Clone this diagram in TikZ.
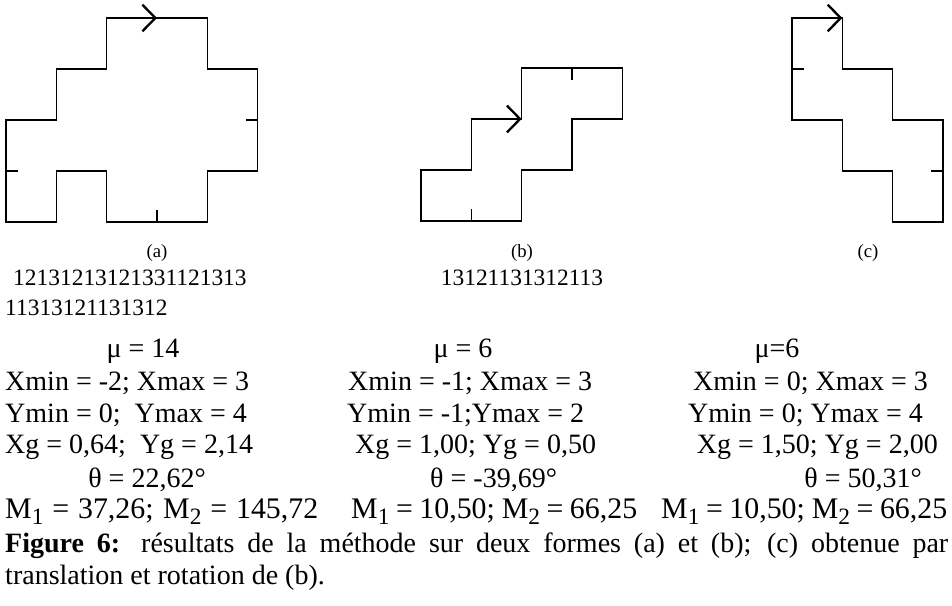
\documentclass[tikz,border=0pt]{standalone}
\usepackage{fontspec}
\setmainfont{Liberation Serif}
\usepackage{tikz}
\usetikzlibrary{arrows.meta}
\newcommand\tabsize{\fontsize{23.9}{28}\selectfont}
\newcommand\momsize{\fontsize{25.5}{30}\selectfont}
\newcommand\codesize{\fontsize{20}{24}\selectfont}
\newcommand\labsize{\fontsize{16}{19}\selectfont}
\newcommand\Msub[1]{M\raisebox{-0.2em}{\fontsize{20}{20}\selectfont #1}}

\begin{document}
\begin{tikzpicture}[
  x=1cm,y=1cm,
  contour/.style={line width=1.2pt,line join=miter},
  notch/.style={line width=1.2pt},
  heading/.style={line width=1.2pt,
    -{Straight Barb[length=0.39cm,width=0.8cm,line width=2pt]}},
  unitgrid/.style={x=1.51cm,y=1.53cm},
  every node/.style={inner sep=0pt},
  lrow/.style={anchor=base west,font=\tabsize},
  crow/.style={anchor=base,font=\tabsize},
  rrow/.style={anchor=base east,font=\tabsize},
  moment/.style={anchor=base west,font=\momsize},
  code/.style={font=\codesize},
  tag/.style={anchor=base,font=\labsize}
]
  \useasboundingbox (0,0) rectangle (28.56,18.15);

  % shape (a)
  \begin{scope}[shift={(0.18,11.49)},unitgrid]
    \draw[contour] (2,4) -- (4,4) -- (4,3) -- (5,3) -- (5,1) -- (4,1)
      -- (4,0) -- (2,0) -- (2,1) -- (1,1) -- (1,0) -- (0,0) -- (0,2)
      -- (1,2) -- (1,3) -- (2,3) -- cycle;
    \draw[notch] (5,2) -- ++(-0.23,0);
    \draw[notch] (3,0) -- ++(0,0.23);
    \draw[notch] (0,1) -- ++(0.23,0);
    \draw[heading] (2,4) -- (3,4);
  \end{scope}

  % shape (b)
  \begin{scope}[shift={(12.63,11.52)},unitgrid]
    \draw[contour] (1,2) -- (2,2) -- (2,3) -- (4,3) -- (4,2) -- (3,2)
      -- (3,1) -- (2,1) -- (2,0) -- (0,0) -- (0,1) -- (1,1) -- cycle;
    \draw[notch] (3,3) -- ++(0,-0.23);
    \draw[notch] (1,0) -- ++(0,0.23);
    \draw[heading] (1,2) -- (2,2);
  \end{scope}

  % shape (c)
  \begin{scope}[shift={(23.76,11.49)},unitgrid]
    \draw[contour] (0,4) -- (1,4) -- (1,3) -- (2,3) -- (2,2) -- (3,2)
      -- (3,0) -- (2,0) -- (2,1) -- (1,1) -- (1,2) -- (0,2) -- cycle;
    \draw[notch] (3,1) -- ++(-0.23,0);
    \draw[notch] (0,3) -- ++(0.23,0);
    \draw[heading] (0,4) -- (1,4);
  \end{scope}

  \node[tag] (taga) at (4.71,10.41) {(a)};
  \node[tag] (tagb) at (15.66,10.41) {(b)};
  \node[tag] (tagc) at (26.04,10.41) {(c)};

  \node[code,anchor=base west] (codea1) at (0.39,9.57) {12131213121331121313};
  \node[code,anchor=base west] (codea2) at (0.15,8.70) {11313121131312};
  \node[code,anchor=base] (codeb) at (15.66,9.57) {13121131312113};

  % column (a)
  \node[crow] (mua) at (4.29,7.43) {μ = 14};
  \node[lrow] (xa) at (0.15,6.45) {Xmin = -2; Xmax = 3};
  \node[lrow] (ya) at (0.15,5.49) {Ymin = 0;\ \ Ymax = 4};
  \node[lrow] (ga) at (0.15,4.56) {Xg = 0,64;\ \ Yg = 2,14};
  \node[crow] (ta) at (4.41,3.54) {θ = 22,62°};
  \node[moment] (ma) at (0.15,2.60)
    {\makebox[9.39cm][s]{\Msub{1} = 37,26; \Msub{2} = 145,72}};

  % column (b)
  \node[crow] (mub) at (13.89,7.43) {μ = 6};
  \node[lrow] (xb) at (10.44,6.45) {Xmin = -1; Xmax = 3};
  \node[lrow] (yb) at (10.41,5.49) {Ymin = -1;Ymax = 2};
  \node[lrow] (gb) at (10.65,4.56) {Xg = 1,00; Yg = 0,50};
  \node[lrow] (tb) at (12.90,3.54) {θ = -39,69°};
  \node[moment] (mb) at (10.53,2.60)
    {\makebox[8.58cm][s]{\Msub{1} = 10,50; \Msub{2} = 66,25}};

  % column (c)
  \node[crow] (muc) at (23.31,7.43) {μ=6};
  \node[rrow] (xc) at (27.84,6.45) {Xmin = 0; Xmax = 3};
  \node[rrow] (yc) at (27.69,5.49) {Ymin = 0; Ymax = 4};
  \node[rrow] (gc) at (28.14,4.56) {Xg = 1,50; Yg = 2,00};
  \node[rrow] (tc) at (27.66,3.54) {θ = 50,31°};
  \node[moment] (mc) at (19.83,2.60)
    {\makebox[8.58cm][s]{\Msub{1} = 10,50; \Msub{2} = 66,25}};

  \node[lrow] (cap1) at (0.15,1.59) {\makebox[28.29cm][s]{\textbf{Figure 6:}
    résultats de la méthode sur deux formes (a) et (b); (c) obtenue par}};
  \node[lrow] (cap2) at (0.15,0.63) {translation et rotation de (b).};
\end{tikzpicture}
\end{document}
